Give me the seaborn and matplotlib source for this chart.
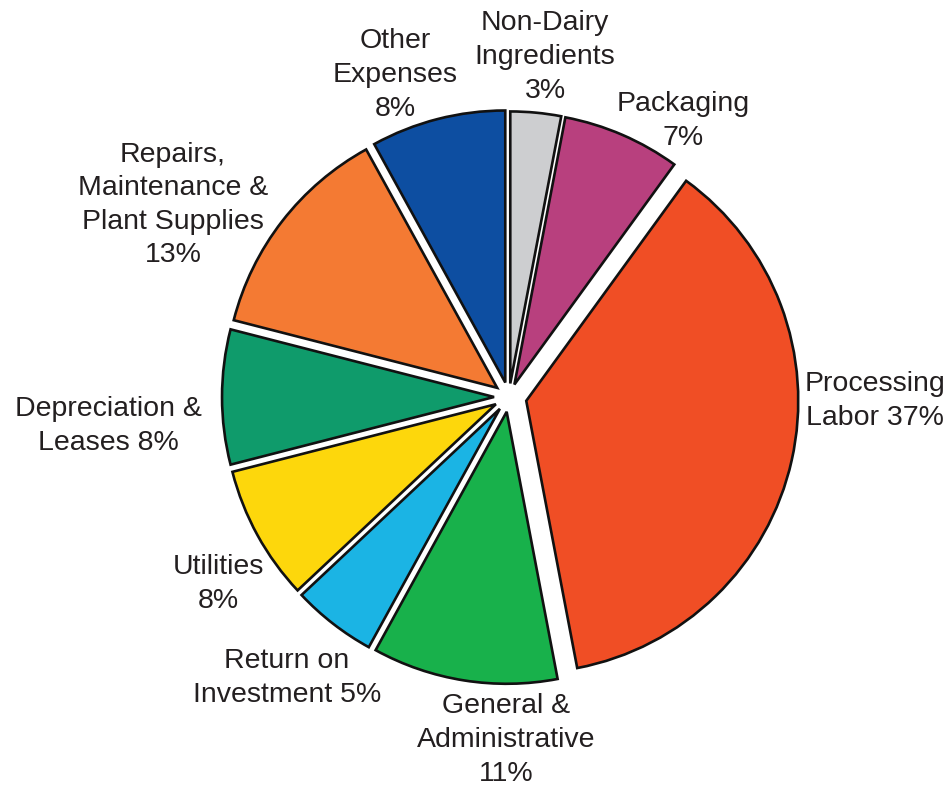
import matplotlib
matplotlib.use("Agg")
import matplotlib.pyplot as plt
import seaborn as sns

sns.set_theme(style="white")
plt.rcParams["font.family"] = ["Liberation Sans", "DejaVu Sans"]

# Cost shares, clockwise from 12 o'clock
categories = ["Non-Dairy\nIngredients", "Packaging", "Processing\nLabor",
              "General &\nAdministrative", "Return on\nInvestment", "Utilities",
              "Depreciation &\nLeases", "Repairs,\nMaintenance &\nPlant Supplies",
              "Other\nExpenses"]
shares = [3, 7, 37, 11, 5, 8, 8, 13, 8]
label_texts = ["Non-Dairy\nIngredients\n3%", "Packaging\n7%", "Processing\nLabor 37%",
               "General &\nAdministrative\n11%", "Return on\nInvestment 5%",
               "Utilities\n8%", "Depreciation &\nLeases 8%",
               "Repairs,\nMaintenance &\nPlant Supplies\n13%", "Other\nExpenses\n8%"]
colors = ["#cdced0", "#b8407e", "#f04e25", "#18b14b", "#1bb4e4",
          "#fdd70c", "#0f9b6b", "#f47a33", "#0d4ea1"]
explode = [0.05, 0.05, 0.065, 0.055, 0.055, 0.055, 0.055, 0.055, 0.055]

# Label anchor points (pixel layout of the 953x792 canvas)
label_px = [(545, 57), (683, 121), (875, 401), (506, 740), (287, 678),
            (218, 584), (108, 426), (173, 205), (395, 75)]

W, H = 953, 792
CX, CY, R = 509, 397, 272

fig = plt.figure(figsize=(W / 100, H / 100), dpi=100)
ax = fig.add_axes([0, 0, 1, 1])
ax.pie(shares, colors=colors, explode=explode, startangle=90, counterclock=False,
       radius=1.0, wedgeprops=dict(edgecolor="#111111", linewidth=1.9))
ax.set_aspect("auto")
ax.set_xlim(-CX / R, (W - CX) / R)
ax.set_ylim(-(H - CY) / R, CY / R)
ax.axis("off")

for txt, (px, py) in zip(label_texts, label_px):
    ax.text((px - CX) / R, (CY - py) / R, txt, ha="center", va="center",
            fontsize=20.5, color="#231f20", linespacing=1.38)

fig.savefig("out.png", dpi=100, facecolor="white")
